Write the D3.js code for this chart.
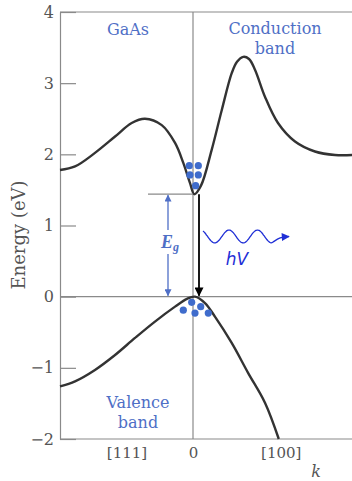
<!DOCTYPE html>
<html>
<head>
<meta charset="utf-8">
<script src="https://cdn.jsdelivr.net/npm/d3@7"></script>
<style>
  body { margin: 0; background: #fff; }
  svg { display: block; font-family: "DejaVu Serif", "Liberation Serif", serif; }
</style>
</head>
<body>
<div id="chart"></div>
<script>
// band structure: k (arbitrary, 0 = Gamma), E in eV
const conductionK = [-1, -0.887, -0.737, -0.586, -0.461, -0.361, -0.235, -0.135, -0.073, -0.023, 0.01, 0.06, 0.14, 0.216, 0.291, 0.331, 0.378, 0.421, 0.466, 0.541, 0.639, 0.767, 0.917, 1.068, 1.2];
const conductionE = [1.78, 1.83, 2.02, 2.25, 2.44, 2.50, 2.41, 2.16, 1.88, 1.60, 1.44, 1.56, 2.06, 2.62, 3.14, 3.30, 3.37, 3.34, 3.19, 2.81, 2.44, 2.18, 2.04, 1.99, 1.99];
const valenceK = [-1, -0.887, -0.737, -0.586, -0.436, -0.286, -0.135, -0.045, 0.015, 0.09, 0.165, 0.291, 0.414, 0.541, 0.645];
const valenceE = [-1.26, -1.19, -1.03, -0.82, -0.58, -0.35, -0.14, -0.03, 0, -0.09, -0.28, -0.65, -1.07, -1.49, -2.0];
const energyTicks = [-2, -1, 0, 1, 2, 3, 4];
const kTicks = [-0.5, 0, 0.66];
const kLabels = ["[111]", "0", "[100]"];
const gapEnergy = 1.44;
// carriers: electrons near the conduction minimum, holes near the valence top
const electronK = [-0.028, 0.04, -0.023, 0.04, 0.02];
const electronE = [1.84, 1.84, 1.71, 1.71, 1.56];
const holeK = [-0.01, 0.058, -0.073, 0.015, 0.115];
const holeE = [-0.08, -0.14, -0.19, -0.23, -0.23];

const width = 352, height = 481;
const textBlue = "#4f6fc6", waveBlue = "#1f2fd6", gray = "#8a8a8a", labelGray = "#555";

const svg = d3.select("#chart").append("svg")
  .attr("width", width)
  .attr("height", height);

const x = d3.scaleLinear().domain([-1, 0]).range([60, 193]);
const y = d3.scaleLinear().domain([-2, 4]).range([439, 12]);
const xMax = width;

// frame lines
[4, 0, -2].forEach(e => {
  svg.append("line").attr("x1", x(-1)).attr("x2", xMax).attr("y1", y(e)).attr("y2", y(e))
    .attr("stroke", gray).attr("stroke-width", 1.2);
});
svg.append("line").attr("x1", x(0)).attr("x2", x(0)).attr("y1", y(4)).attr("y2", y(-2))
  .attr("stroke", gray).attr("stroke-width", 1.2);

// y axis
const yAxis = d3.axisLeft(y)
  .tickValues(energyTicks)
  .tickSizeInner(-16)
  .tickSizeOuter(0)
  .tickPadding(6)
  .tickFormat(d => d < 0 ? "\u2212" + Math.abs(d) : d);

const yAxisG = svg.append("g")
  .attr("transform", `translate(${x(-1)},0)`)
  .call(yAxis);
yAxisG.select(".domain").attr("stroke", gray).attr("stroke-width", 1.2);
yAxisG.selectAll(".tick line").attr("stroke", gray).attr("stroke-width", 1.2);
yAxisG.selectAll(".tick text")
  .attr("fill", labelGray)
  .style("font-size", "16px")
  .style("font-family", "DejaVu Serif, serif");

// x axis labels
const xAxis = d3.axisBottom(x)
  .tickValues(kTicks)
  .tickSize(0)
  .tickPadding(8)
  .tickFormat((d, i) => kLabels[i]);
const xAxisG = svg.append("g")
  .attr("transform", `translate(0,${y(-2)})`)
  .call(xAxis);
xAxisG.select(".domain").remove();
xAxisG.selectAll(".tick text")
  .attr("fill", labelGray)
  .style("font-size", "15px")
  .style("font-family", "DejaVu Serif, serif");

svg.append("text")
  .attr("x", 316).attr("y", 477)
  .attr("text-anchor", "middle")
  .attr("fill", labelGray)
  .style("font-size", "16px")
  .style("font-style", "italic")
  .text("k");

svg.append("text")
  .attr("transform", "translate(25,235) rotate(-90)")
  .attr("text-anchor", "middle")
  .attr("fill", labelGray)
  .style("font-size", "18px")
  .text("Energy (eV)");

// bands
const line = d3.line()
  .x(d => x(d[0]))
  .y(d => y(d[1]))
  .curve(d3.curveCatmullRom.alpha(0.5));

svg.append("path")
  .datum(d3.zip(conductionK, conductionE))
  .attr("d", line)
  .attr("fill", "none")
  .attr("stroke", "#333")
  .attr("stroke-width", 2.4);

svg.append("path")
  .datum(d3.zip(valenceK, valenceE))
  .attr("d", line)
  .attr("fill", "none")
  .attr("stroke", "#333")
  .attr("stroke-width", 2.4);

// gap marker line
svg.append("line")
  .attr("x1", 148).attr("x2", x(0))
  .attr("y1", y(gapEnergy)).attr("y2", y(gapEnergy))
  .attr("stroke", gray).attr("stroke-width", 1.2);

// arrowheads
const defs = svg.append("defs");
function marker(id, color, w, h) {
  defs.append("marker")
    .attr("id", id)
    .attr("viewBox", "0 0 10 10")
    .attr("refX", 9).attr("refY", 5)
    .attr("markerWidth", w).attr("markerHeight", h)
    .attr("markerUnits", "userSpaceOnUse")
    .attr("orient", "auto-start-reverse")
    .append("path")
    .attr("d", "M0,0 L10,5 L0,10 Z")
    .attr("fill", color);
}
marker("blueHead", textBlue, 9, 7);
marker("blackHead", "#000", 12, 9);
marker("waveHead", waveBlue, 9, 8);

// Eg double arrow, broken around the label
const egX = 168;
svg.append("line")
  .attr("x1", egX).attr("x2", egX)
  .attr("y1", 230).attr("y2", y(gapEnergy) + 1)
  .attr("stroke", textBlue).attr("stroke-width", 1.3)
  .attr("marker-end", "url(#blueHead)");
svg.append("line")
  .attr("x1", egX).attr("x2", egX)
  .attr("y1", 254).attr("y2", y(0) - 1)
  .attr("stroke", textBlue).attr("stroke-width", 1.3)
  .attr("marker-end", "url(#blueHead)");

const eg = svg.append("text")
  .attr("x", 161).attr("y", 248)
  .attr("fill", textBlue)
  .style("font-family", "Liberation Serif, serif")
  .style("font-size", "18px")
  .style("font-weight", "bold")
  .style("font-style", "italic");
eg.append("tspan").text("E");
eg.append("tspan").attr("dy", 3).style("font-size", "12px").text("g");

// recombination arrow
svg.append("line")
  .attr("x1", 199).attr("x2", 199)
  .attr("y1", y(gapEnergy)).attr("y2", y(0) - 1)
  .attr("stroke", "#000").attr("stroke-width", 1.8)
  .attr("marker-end", "url(#blackHead)");

// photon wave (decorative squiggle)
const wavePts = d3.range(203, 272.5, 1).map(px => [px, 236.5 + 6.5 * Math.sin(2 * Math.PI * (px - 207.6) / 28.5)]);
wavePts.push([280, 237], [289, 236.5]);
svg.append("path")
  .attr("d", d3.line().curve(d3.curveBasis)(wavePts))
  .attr("fill", "none")
  .attr("stroke", waveBlue)
  .attr("stroke-width", 1.3)
  .attr("marker-end", "url(#waveHead)");

svg.append("text")
  .attr("x", 237).attr("y", 265)
  .attr("text-anchor", "middle")
  .attr("fill", waveBlue)
  .style("font-family", "DejaVu Sans, sans-serif")
  .style("font-style", "italic")
  .style("font-size", "17px")
  .text("hV");

// carriers
svg.selectAll(".electron")
  .data(d3.zip(electronK, electronE))
  .enter().append("circle")
  .attr("class", "electron")
  .attr("cx", d => x(d[0])).attr("cy", d => y(d[1]))
  .attr("r", 3.6).attr("fill", "#3f6ccc");

svg.selectAll(".hole")
  .data(d3.zip(holeK, holeE))
  .enter().append("circle")
  .attr("class", "hole")
  .attr("cx", d => x(d[0])).attr("cy", d => y(d[1]))
  .attr("r", 3.6).attr("fill", "#3f6ccc");

// band names
const labels = [
  { t: ["GaAs"], x: 128, y: 35 },
  { t: ["Conduction", "band"], x: 275, y: 34 },
  { t: ["Valence", "band"], x: 138, y: 408 }
];
labels.forEach(l => {
  const tx = svg.append("text")
    .attr("x", l.x).attr("y", l.y)
    .attr("text-anchor", "middle")
    .attr("fill", textBlue)
    .style("font-size", "16px");
  l.t.forEach((s, i) => tx.append("tspan").attr("x", l.x).attr("dy", i ? 20 : 0).text(s));
});
</script>
</body>
</html>
